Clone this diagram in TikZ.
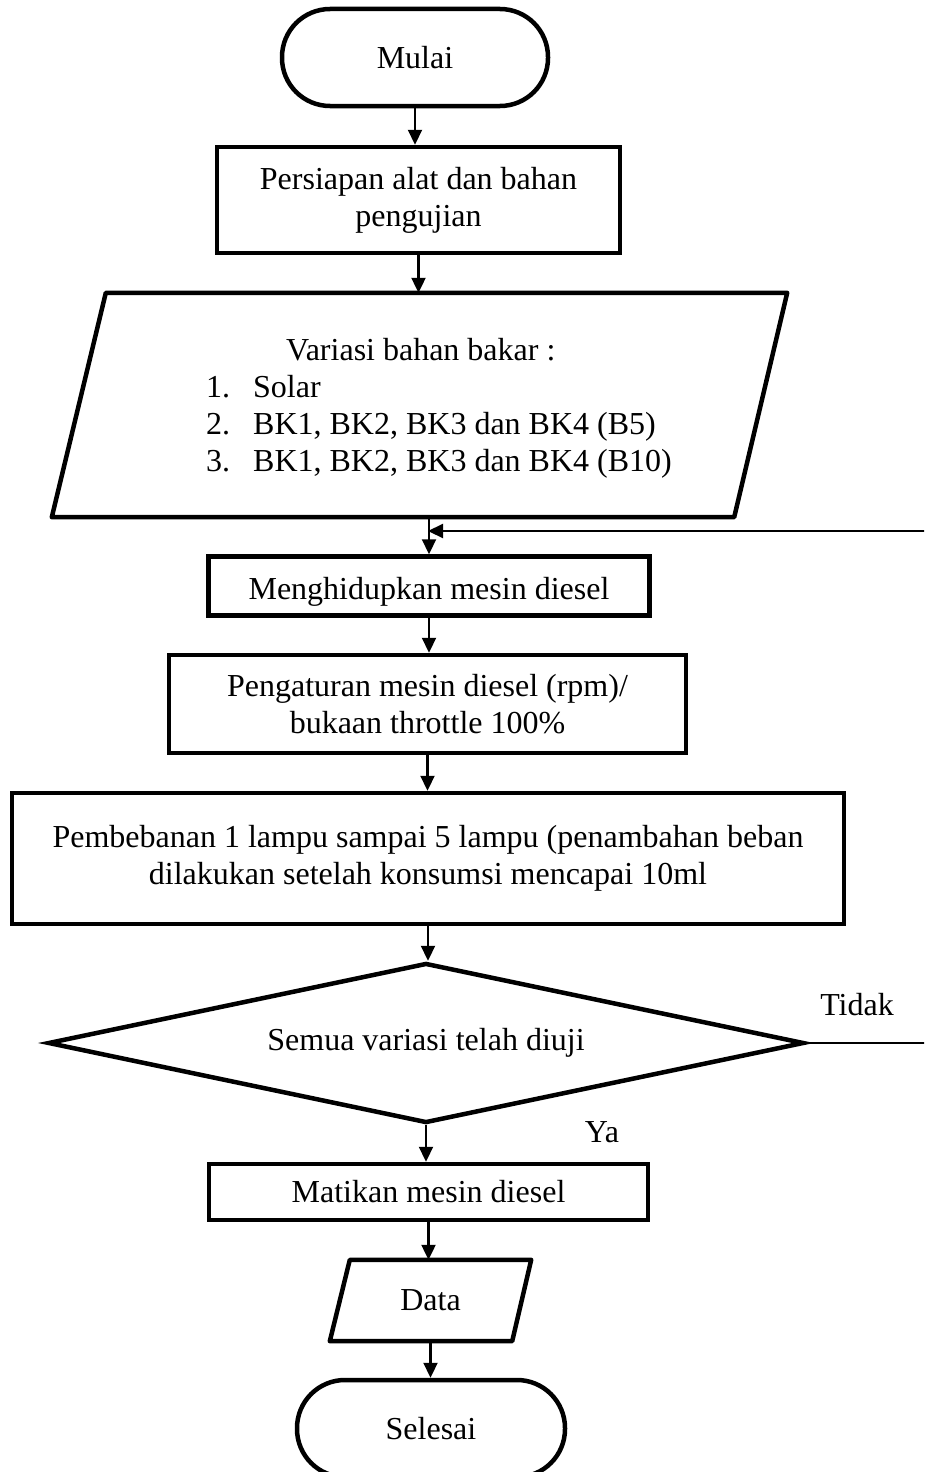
\documentclass[tikz,border=0pt]{standalone}
\usepackage{fontspec}
\setmainfont{Liberation Serif}
\usetikzlibrary{arrows.meta,shapes.geometric}
\newcommand\bigfont{\fontsize{32}{37}\selectfont}
\begin{document}
\begin{tikzpicture}[x=1pt,y=-1pt,
  shp/.style={draw, line width=4.5pt, rectangle, inner sep=0pt, align=center, font=\bigfont},
  term/.style={shp, rounded corners=48pt},
  ghost/.style={rectangle, inner sep=0pt},
  arr/.style={-{Triangle[width=14pt,length=15pt]}, line width=2.2pt},
  lbl/.style={anchor=base, inner sep=0pt, font=\bigfont}]
\useasboundingbox (0,0) rectangle (924,1472);
\clip (0,0) rectangle (924,1472);

\node[term, minimum width=266pt, minimum height=97pt] (mulai) at (415,57.5) {Mulai};
\node[shp, minimum width=403pt, minimum height=106pt] (persiapan) at (418.5,200) {Persiapan alat dan bahan\\pengujian};

% input parallelogram
\node[ghost, minimum width=735pt, minimum height=224pt] (par) at (419.5,405) {};
\draw[line width=4.5pt, line join=round] ([xshift=54pt]par.north west) -- (par.north east) -- ([xshift=-53pt]par.south east) -- (par.south west) -- cycle;
\node[anchor=base west, inner sep=0pt, font=\bigfont] (vartext) at (206,360) {%
  \begin{tabular}[t]{@{}p{47pt}@{}l@{}}
  \multicolumn{2}{@{}l@{}}{\hspace*{80pt}Variasi bahan bakar :}\\
  1. & Solar\\
  2. & BK1, BK2, BK3 dan BK4 (B5)\\
  3. & BK1, BK2, BK3 dan BK4 (B10)
  \end{tabular}};

\node[shp, minimum width=441pt, minimum height=59pt, text height=26pt, text depth=0pt] (hidup) at (429,586) {Menghidupkan mesin diesel};
\node[shp, minimum width=517pt, minimum height=98pt] (atur) at (427.5,704) {Pengaturan mesin diesel (rpm)/\\bukaan throttle 100\%};
\node[shp, minimum width=832pt, minimum height=131pt] (beban) at (428,858.5) {Pembebanan 1 lampu sampai 5 lampu (penambahan beban\\dilakukan setelah konsumsi mencapai 10ml};
\node[draw, diamond, aspect=4.7, line width=4.5pt, inner sep=0pt, minimum width=756pt, minimum height=160pt, font=\bigfont] (dec) at (426,1043) {Semua variasi telah diuji};
\node[shp, minimum width=439pt, minimum height=56pt] (mati) at (428.5,1192) {Matikan mesin diesel};

% output parallelogram
\node[ghost, minimum width=201pt, minimum height=81pt, font=\bigfont] (data) at (430.5,1300.5) {Data};
\draw[line width=4.5pt, line join=round] ([xshift=20pt]data.north west) -- (data.north east) -- ([xshift=-19pt]data.south east) -- (data.south west) -- cycle;

\node[term, minimum width=268pt, minimum height=97pt] (selesai) at (431,1428.5) {Selesai};

% connectors
\coordinate (j) at (428,531);
\draw[arr] (mulai.south) -- (mulai.south |- persiapan.north);
\draw[arr] (persiapan.south) -- (persiapan.south |- par.north);
\draw[arr] (hidup.north |- par.south) -- (hidup.north);
\draw[arr] (hidup.south) -- (hidup.south |- atur.north);
\draw[arr] (atur.south) -- (atur.south |- beban.north);
\draw[arr] (beban.south) -- (beban.south |- dec.north);
\draw[arr] (dec.south) -- (dec.south |- mati.north);
\draw[arr] (mati.south) -- (mati.south |- data.north);
\draw[arr] (data.south) -- (data.south |- selesai.north);
\draw[arr] (dec.east) -- ++(140,0) |- (j);

\node[lbl] (tidak) at (857,1015) {Tidak};
\node[lbl] (ya) at (602,1142) {Ya};
\end{tikzpicture}
\end{document}
